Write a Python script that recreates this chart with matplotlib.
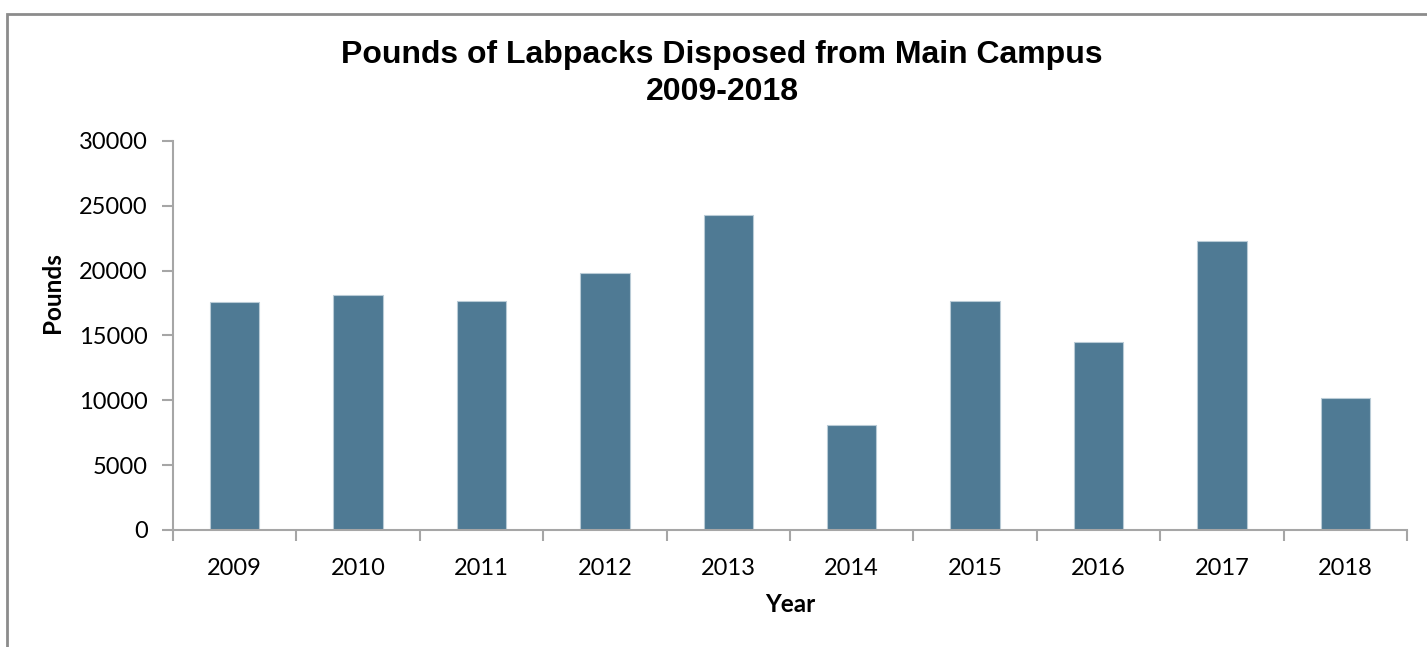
import matplotlib
matplotlib.use("Agg")
import matplotlib.pyplot as plt
from matplotlib.patches import Rectangle

years = ["2009", "2010", "2011", "2012", "2013", "2014", "2015", "2016", "2017", "2018"]
pounds = [17600, 18150, 17650, 19800, 24300, 8070, 17650, 14470, 22290, 10150]
yticks = [0, 5000, 10000, 15000, 20000, 25000, 30000]

W, H = 1427, 647
fig = plt.figure(figsize=(W / 100, H / 100), dpi=100)
fig.patch.set_facecolor("white")

# outer chart border (right and bottom edges fall outside the image)
fig.patches.append(Rectangle((7 / W, -1), 2, 1 + (H - 14) / H, transform=fig.transFigure,
                             fill=False, edgecolor="#8c8c8c", linewidth=2.0))

ax = fig.add_axes([173 / W, (H - 530) / H, (1407 - 173) / W, (530 - 141) / H])
x = list(range(len(years)))
ax.bar(x, pounds, width=0.4, color="#4f7a94", edgecolor="#b9cbd6", linewidth=0.8)
ax.set_xlim(-0.5, len(years) - 0.5)
ax.set_ylim(0, 30000)
ax.set_yticks(yticks)
ax.set_yticklabels([str(v) for v in yticks])
ax.set_xticks(x)
ax.set_xticklabels(years)
ax.set_xticks([i - 0.5 for i in range(len(years) + 1)], minor=True)

for s in ["top", "right"]:
    ax.spines[s].set_visible(False)
for s in ["left", "bottom"]:
    ax.spines[s].set_color("#a6a6a6")
    ax.spines[s].set_linewidth(1.5)

ax.tick_params(axis="x", which="major", length=0, pad=20, labelsize=17)
ax.tick_params(axis="x", which="minor", length=8, width=1.5, color="#a6a6a6", direction="out")
ax.tick_params(axis="y", which="major", length=8, width=1.5, color="#a6a6a6", pad=10, labelsize=17)
for t in ax.get_xticklabels() + ax.get_yticklabels():
    t.set_fontfamily("Lato")

fig.text(722 / W, 1 - 55 / H, "Pounds of Labpacks Disposed from Main Campus",
         ha="center", va="center", fontsize=23, fontweight="bold", family="Liberation Sans")
fig.text(722 / W, 1 - 92 / H, "2009-2018",
         ha="center", va="center", fontsize=23, fontweight="bold", family="Liberation Sans")
fig.text(52 / W, 1 - 293 / H, "Pounds", rotation=90, ha="center", va="center",
         fontsize=17.5, fontweight="bold", family="Lato")
fig.text(790 / W, 1 - 605 / H, "Year", ha="center", va="center",
         fontsize=17.5, fontweight="bold", family="Lato")

fig.savefig("out.png", dpi=100, facecolor="white")
